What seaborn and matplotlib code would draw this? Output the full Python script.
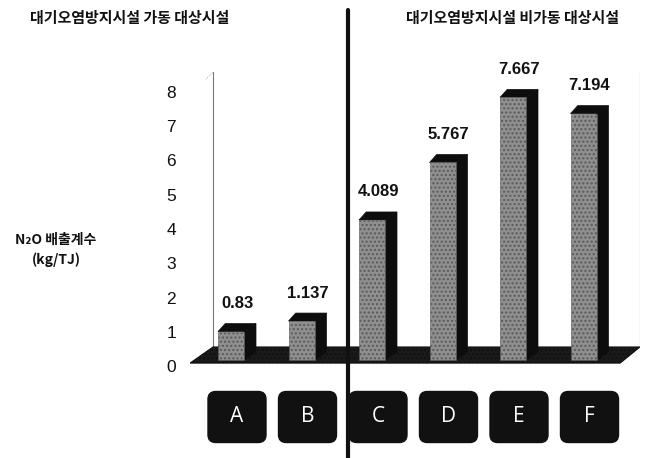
import numpy as np
import pandas as pd
import matplotlib
matplotlib.use("Agg")
import matplotlib.pyplot as plt
import seaborn as sns
from matplotlib.patches import Polygon, FancyBboxPatch
from matplotlib.lines import Line2D
from matplotlib.transforms import ScaledTranslation

# ---- data ----
categories = ["A", "B", "C", "D", "E", "F"]
values = [0.83, 1.137, 4.089, 5.767, 7.667, 7.194]
value_labels = ["0.83", "1.137", "4.089", "5.767", "7.667", "7.194"]
y_ticks = [0, 1, 2, 3, 4, 5, 6, 7, 8]
group_titles = ["대기오염방지시설 가동 대상시설", "대기오염방지시설 비가동 대상시설"]
y_title = "N₂O 배출계수\n(kg/TJ)"

df = pd.DataFrame({"category": categories, "value": values})

sns.set_theme(style="white")
plt.rcParams["font.family"] = ["Noto Sans CJK KR", "DejaVu Sans"]

W, H = 659, 458
fig = plt.figure(figsize=(W / 100, H / 100), dpi=100)

# axes placement in pixels
px_x0, px_x1 = 190, 640
px_top, px_bot = 60, 458
x_unit = 70.5          # px per category step
y_unit = 34.25         # px per value unit
x_first = 231          # px of first bar centre
y_zero = 360           # px of value 0

ax = fig.add_axes([px_x0 / W, 1 - px_bot / H, (px_x1 - px_x0) / W, (px_bot - px_top) / H])
xlim = ((px_x0 - x_first) / x_unit, (px_x1 - x_first) / x_unit)
ylim = (-(px_bot - y_zero) / y_unit, (y_zero - px_top) / y_unit)

# depth of the pseudo-3D extrusion, in data units
dx = 12 / x_unit
dy = 8 / y_unit

# floor slab
floor = Polygon([(-0.58, -0.09), (5.52, -0.09), (5.80, 0.38), (-0.255, 0.38)],
                closed=True, facecolor="#1a1a1a", edgecolor="#111111", lw=0.8, zorder=1,
                hatch="....")
ax.add_patch(floor)

# back walls
ax.plot([-0.255, -0.255], [0.38, 8.4], color="#777777", lw=0.8, zorder=0.5)
ax.plot([-0.36, -0.255], [8.2, 8.4], color="#999999", lw=0.6, ls=":", zorder=0.5)
ax.plot([5.80, 5.80], [0.38, 8.4], color="#777777", lw=0.8, zorder=0.5)

# front faces of bars
sns.barplot(data=df, x="category", y="value", ax=ax, width=26 / x_unit,
            color="#8f8f8f", saturation=1, edgecolor="#555555", linewidth=0.4,
            zorder=3)
for bar in ax.patches:
    if bar is floor:
        continue
    bar.set_hatch("....")
    bar.set_edgecolor("#5a5a5a")

ax.set_xlim(*xlim)
ax.set_ylim(*ylim)

# side faces, top caps, value labels and category boxes
for i, (cat, v, lab) in enumerate(zip(categories, values, value_labels)):
    bw = 26 / x_unit
    xl, xr = i - bw / 2, i + bw / 2
    side = Polygon([(xr, 0), (xr, v), (xr + dx, v + dy), (xr + dx, dy)],
                   closed=True, facecolor="#0d0d0d", edgecolor="#0d0d0d", lw=0.5, zorder=2.5)
    top = Polygon([(xl, v), (xl + dx * 0.6, v + dy), (xr + dx, v + dy), (xr, v)],
                  closed=True, facecolor="#0d0d0d", edgecolor="#0d0d0d", lw=0.5, zorder=2.6)
    ax.add_patch(side)
    ax.add_patch(top)
    ax.annotate(lab, (i + dx / 2, v + dy), xytext=(0, 9), textcoords="offset points",
                ha="center", va="bottom", fontsize=12, fontweight="bold",
                family=["Liberation Sans", "DejaVu Sans"], color="#111111", zorder=5)

    bx_w = 58 / x_unit
    bx_h = 51 / y_unit
    cx = i + dx / 2
    cy = -(417 - y_zero) / y_unit
    box = FancyBboxPatch((cx - bx_w / 2, cy - bx_h / 2), bx_w, bx_h,
                         boxstyle="round,pad=0,rounding_size=0.11",
                         mutation_aspect=x_unit / y_unit,
                         facecolor="#111111", edgecolor="#111111", zorder=4, clip_on=False)
    ax.add_patch(box)
    ax.text(cx, cy, cat, ha="center", va="center", color="white", fontsize=15,
            family=["Open Sans", "DejaVu Sans"], zorder=5)

# y axis (labels sit slightly below the bar baseline, as on the floor front)
ax.set_yticks(y_ticks)
ax.set_yticklabels([str(t) for t in y_ticks], family=["Liberation Sans", "DejaVu Sans"],
                   fontsize=12.5, color="#111111")
ax.tick_params(axis="y", length=0, pad=10)
shift = ScaledTranslation(0, -6 / 100, fig.dpi_scale_trans)
for t in ax.get_yticklabels():
    t.set_transform(t.get_transform() + shift)
ax.set_xticks([])
ax.set_xlabel("")
ax.set_ylabel("")
for s in ax.spines.values():
    s.set_visible(False)
ax.patch.set_alpha(0)

# axis title
fig.text(56 / W, 1 - 250 / H, y_title, ha="center", va="center", fontsize=10,
         fontweight="bold", linespacing=1.5, color="#111111")

# group titles
fig.text(130 / W, 1 - 18 / H, group_titles[0], ha="center", va="center",
         fontsize=10.8, fontweight="black", color="#111111")
fig.text(512 / W, 1 - 18 / H, group_titles[1], ha="center", va="center",
         fontsize=10.8, fontweight="black", color="#111111")

# divider between the two groups
fig.add_artist(Line2D([348 / W, 348 / W], [0, 1 - 10 / H], transform=fig.transFigure,
                      color="#111111", lw=3, zorder=10))

fig.savefig("out.png", dpi=100, facecolor="white")
